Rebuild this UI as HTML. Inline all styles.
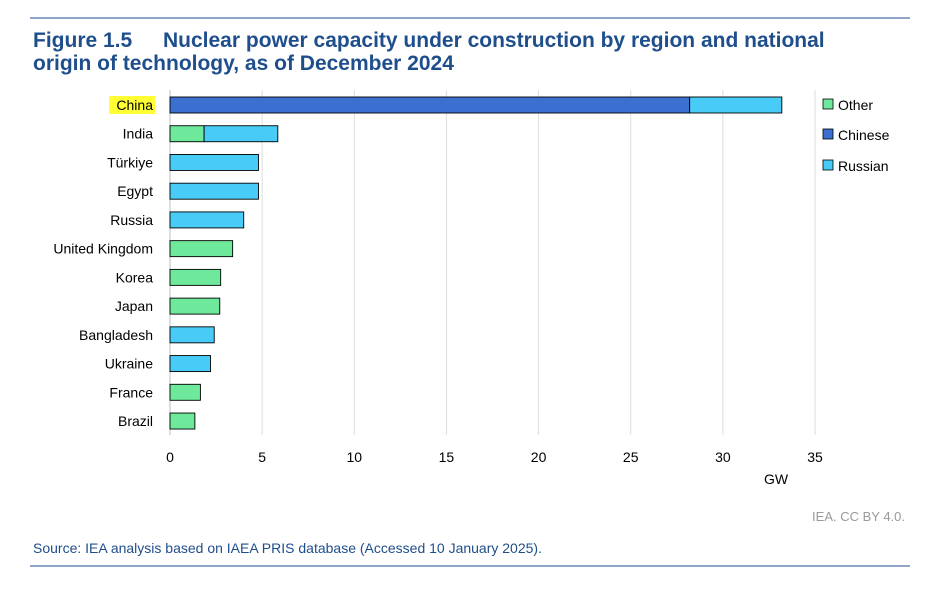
<!DOCTYPE html>
<html><head><meta charset="utf-8"><style>
body{margin:0;width:935px;height:588px;background:#fff;font-family:"Liberation Sans",Arial,sans-serif;overflow:hidden}
</style></head><body>
<svg width="935" height="588" xmlns="http://www.w3.org/2000/svg">
<line x1="30" y1="18" x2="910" y2="18" stroke="#1f4e8c" stroke-width="1"/>
<text x="33" y="47" font-size="21" font-weight="bold" fill="#1f4e8c">Figure 1.5<tspan x="163">Nuclear power capacity under construction by region and national</tspan></text>
<text x="33" y="70" font-size="21" font-weight="bold" fill="#1f4e8c">origin of technology, as of December 2024</text>
<g id="grid"></g><g id="bars"></g><g id="labels"></g><g id="ticks"></g>
<text x="776" y="484" font-size="14" text-anchor="middle" fill="#000">GW</text>
<g>
<rect x="823" y="99" width="10" height="10" fill="#6ee89a" stroke="#000" stroke-width="0.8"/>
<text x="838" y="110" font-size="14">Other</text>
<rect x="823" y="129" width="10" height="10" fill="#3b6fd0" stroke="#000" stroke-width="0.8"/>
<text x="838" y="140" font-size="14">Chinese</text>
<rect x="823" y="160" width="10" height="10" fill="#48cbf6" stroke="#000" stroke-width="0.8"/>
<text x="838" y="171" font-size="14">Russian</text>
</g>
<text x="905" y="521" font-size="13" fill="#9a9a9a" text-anchor="end">IEA. CC BY 4.0.</text>
<text x="33" y="553" font-size="14" fill="#1f4e8c">Source: IEA analysis based on IAEA PRIS database (Accessed 10 January 2025).</text>
<line x1="30" y1="566" x2="910" y2="566" stroke="#1f4e8c" stroke-width="1"/>
</svg>
<script>
const categories=["China","India","Türkiye","Egypt","Russia","United Kingdom","Korea","Japan","Bangladesh","Ukraine","France","Brazil"];
const otherVals=[0,1.85,0,0,0,3.4,2.75,2.7,0,0,1.65,1.35];
const chineseVals=[28.2,0,0,0,0,0,0,0,0,0,0,0];
const russianVals=[5.0,4.0,4.8,4.8,4.0,0,0,0,2.4,2.2,0,0];
const xTicks=[0,5,10,15,20,25,30,35];
const NS="http://www.w3.org/2000/svg";
const x=v=>170+v*(645/35);
const y=i=>105+i*28.73;
function mk(t,a,p){const e=document.createElementNS(NS,t);for(const k in a)e.setAttribute(k,a[k]);p.appendChild(e);return e;}
const grid=document.getElementById('grid'),bars=document.getElementById('bars'),labels=document.getElementById('labels'),ticks=document.getElementById('ticks');
xTicks.forEach(t=>{
 const l=mk('line',{x1:x(t),x2:x(t),y1:90,y2:435,stroke:t===0?'#bdbdbd':'#dedede','stroke-width':1},grid);
 
 
 const tx=mk('text',{x:x(t),y:462,'font-size':14,'text-anchor':'middle'},ticks);tx.textContent=t;
 
 
});
const series=[[otherVals,'#6ee89a','other'],[chineseVals,'#3b6fd0','chinese'],[russianVals,'#48cbf6','russian']];
categories.forEach((c,i)=>{
 let s=0;const cy=y(i);
 series.forEach(([vals,col,nm])=>{const v=vals[i];if(v>0){
  const r=mk('rect',{x:x(s),y:cy-8,width:x(s+v)-x(s),height:16,fill:col,stroke:'#000','stroke-width':0.9},bars);
  
  
  s+=v;}});
 if(i===0){const h=mk('rect',{x:109,y:cy-9,width:46,height:18,fill:'#ffff33'},labels);
  
  }
 const t=mk('text',{x:153,y:cy+5,'font-size':14,'text-anchor':'end'},labels);t.textContent=c;
 
 
});
</script>
</body></html>
